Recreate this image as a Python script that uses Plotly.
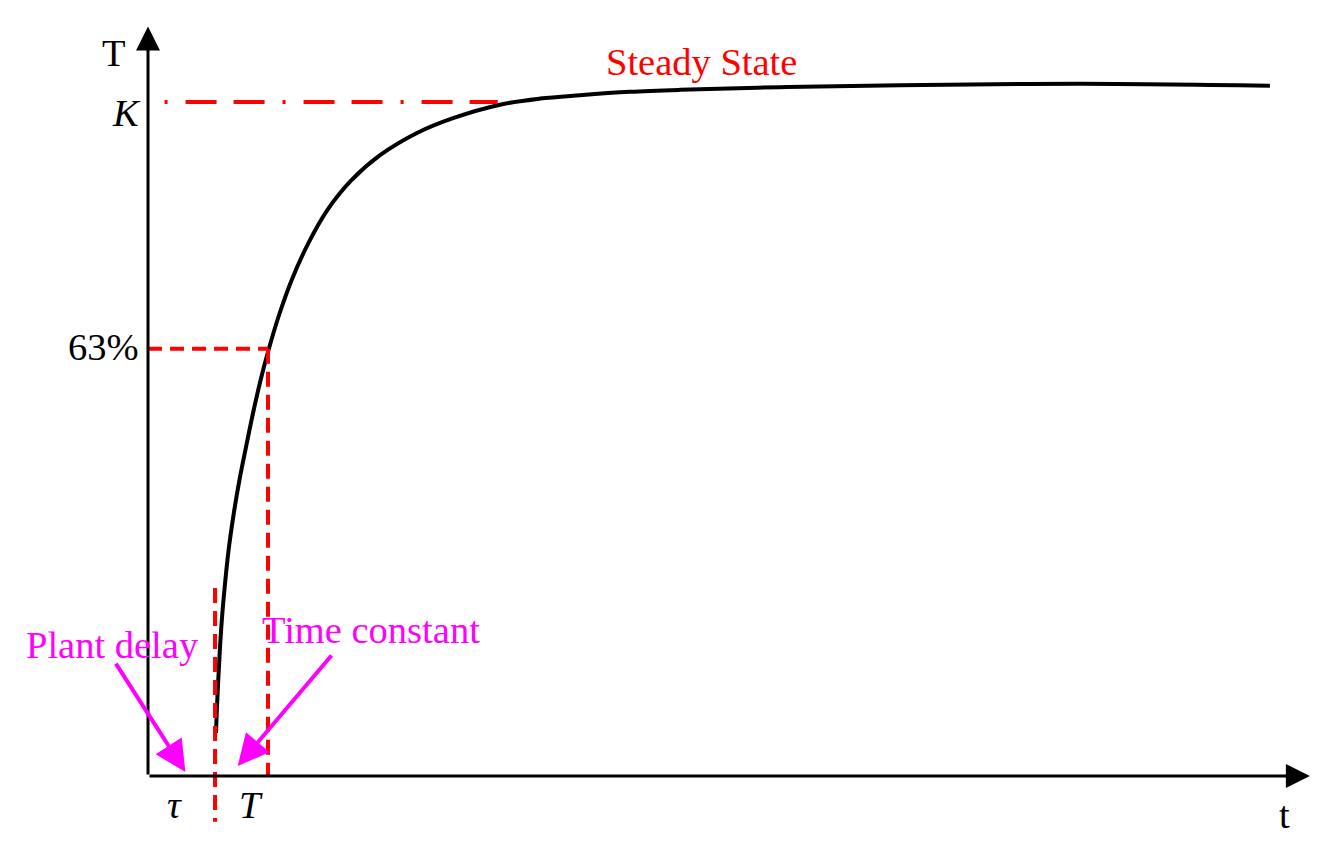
import plotly.graph_objects as go

# ---- data (time in arbitrary units, response as fraction of K) ----
t_curve = [1.273, 1.287, 1.315, 1.348, 1.393, 1.449, 1.517, 1.607, 1.712, 1.835, 1.968, 2.110,
           2.257, 2.442, 2.691, 3.006, 3.361, 3.811, 4.345, 5.037, 5.712, 6.592, 7.341, 8.090,
           9.026, 9.963, 11.835, 14.082, 17.453, 21.011]
y_curve = [0.064, 0.094, 0.142, 0.191, 0.242, 0.291, 0.340, 0.390, 0.439, 0.488, 0.539, 0.588,
           0.632, 0.681, 0.736, 0.791, 0.840, 0.884, 0.921, 0.954, 0.976, 0.996, 1.005, 1.010,
           1.015, 1.018, 1.022, 1.025, 1.027, 1.024]

tau = 1.255          # plant delay
tau_plus_T = 2.247   # delay + time constant
K_level = 1.0
level_63 = 0.634
k_line_start = 0.31
k_line_end = 6.55
tau_line_span = [0.279, -0.068]
t_axis_end = 21.76
y_axis_end = 1.112

y_tick_labels = ["K", "63%"]
x_tick_labels = ["τ", "T"]
axis_titles = ["t", "T"]

RED = "#FF0000"
MAG = "#FF00FF"
FONT = "Liberation Serif, Times New Roman, serif"
FS = 38.5

fig = go.Figure()

def line(xs, ys, color, width, dash=None):
    fig.add_trace(go.Scatter(x=xs, y=ys, mode="lines", hoverinfo="skip", showlegend=False,
                             line=dict(color=color, width=width, dash=dash)))

# response curve
fig.add_trace(go.Scatter(x=t_curve, y=y_curve, mode="lines", hoverinfo="skip", showlegend=False,
                         line=dict(color="black", width=4, shape="spline", smoothing=1.0)))

# guide lines
line([k_line_start, k_line_end], [K_level, K_level], RED, 4, "3px,18px,31px,17px,31px,18px")
line([0, tau_plus_T], [level_63, level_63], RED, 4, "14px,8px")
line([tau_plus_T, tau_plus_T], [level_63, 0], RED, 4, "15px,8px")
line([tau, tau], tau_line_span, RED, 4, "15px,8px")

ann = []
# axes with arrowheads
ann.append(dict(x=t_axis_end, y=0, ax=0, ay=0, xref="x", yref="y", axref="x", ayref="y",
                text="", showarrow=True, arrowhead=2, arrowsize=1.6, arrowwidth=3, arrowcolor="black"))
ann.append(dict(x=0, y=y_axis_end, ax=0, ay=0, xref="x", yref="y", axref="x", ayref="y",
                text="", showarrow=True, arrowhead=2, arrowsize=1.6, arrowwidth=3, arrowcolor="black"))

# magenta pointer arrows
ann.append(dict(x=0.70, y=0.006, ax=-0.62, ay=0.169, xref="x", yref="y", axref="x", ayref="y",
                text="", showarrow=True, arrowhead=2, arrowsize=1.55, arrowwidth=4, arrowcolor=MAG))
ann.append(dict(x=1.68, y=0.015, ax=3.46, ay=0.181, xref="x", yref="y", axref="x", ayref="y",
                text="", showarrow=True, arrowhead=2, arrowsize=1.55, arrowwidth=4, arrowcolor=MAG))

def txt(x, y, s, color="black", xanchor="center"):
    ann.append(dict(x=x, y=y, xref="x", yref="y", text=s, showarrow=False, xanchor=xanchor,
                    yanchor="middle", font=dict(family=FONT, size=FS, color=color)))

txt(-0.64, 1.072, axis_titles[1])
txt(-0.41, 0.983, "<i>" + y_tick_labels[0] + "</i>")
txt(-0.13, level_63 + 0.003, y_tick_labels[1], xanchor="right")
txt(0.49, -0.043, "<i>" + x_tick_labels[0] + "</i>")
txt(1.93, -0.043, "<i>" + x_tick_labels[1] + "</i>")
txt(21.29, -0.058, axis_titles[0])
txt(10.36, 1.06, "Steady State", RED)
txt(-0.67, 0.194, "Plant delay", MAG)
txt(4.18, 0.217, "Time constant", MAG)

fig.update_layout(
    width=1335, height=848,
    margin=dict(l=0, r=0, t=0, b=0),
    paper_bgcolor="white", plot_bgcolor="white",
    xaxis=dict(range=[-2.772, 22.23], visible=False, fixedrange=True),
    yaxis=dict(range=[-0.1068, 1.1513], visible=False, fixedrange=True),
    annotations=ann,
)

fig.write_html("out.html", config={"displayModeBar": False},
               post_script="document.body.style.margin='0';")
